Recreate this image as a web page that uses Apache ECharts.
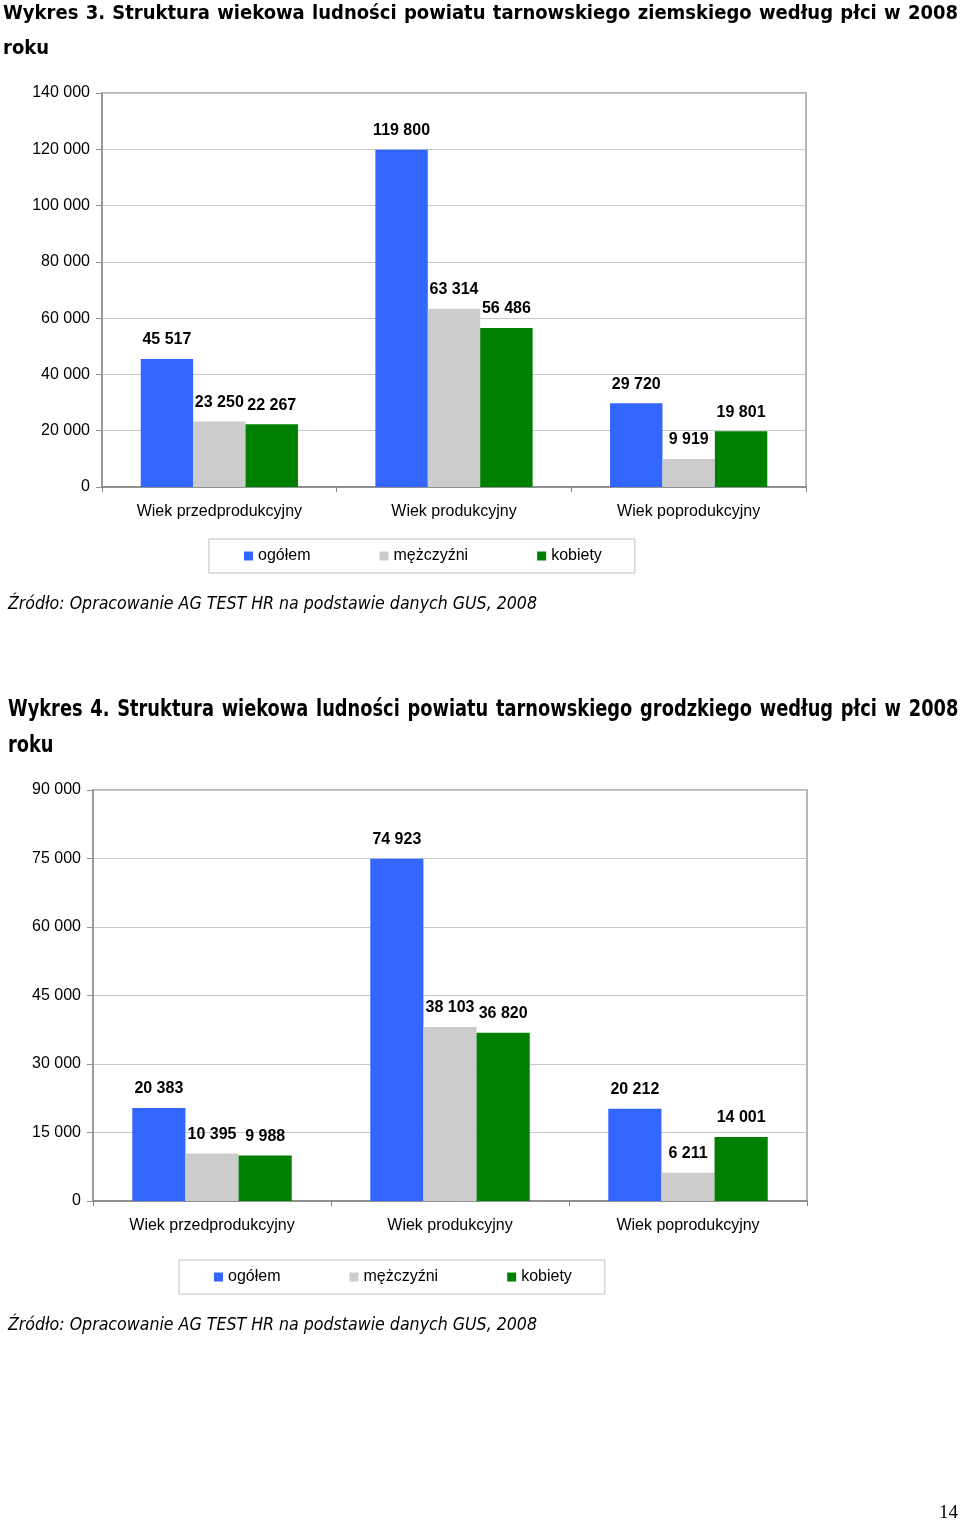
<!DOCTYPE html>
<html><head><meta charset="utf-8">
<script src="https://cdn.jsdelivr.net/npm/echarts@6/dist/echarts.min.js"></script>
<style>
html,body{margin:0;padding:0;background:#fff;}
#page{position:relative;width:960px;height:1522px;overflow:hidden;background:#fff;}
#chart{position:absolute;left:0;top:0;width:960px;height:1522px;}
.t{position:absolute;font-family:'DejaVu Sans Condensed','DejaVu Sans';font-weight:bold;color:#000;white-space:nowrap;font-size:20px;line-height:24px;}
.j{text-align:justify;text-align-last:justify;}
.t2{font-size:22.5px;transform:scaleX(0.88);transform-origin:0 50%;}
.src{position:absolute;left:8px;font-family:'DejaVu Sans Condensed','DejaVu Sans';font-style:italic;font-size:17.6px;line-height:20px;color:#000;white-space:nowrap;}
.pg{position:absolute;left:939px;top:1501px;font-family:'Liberation Serif';font-size:19px;line-height:22px;color:#000;}
</style></head>
<body>
<div id="page">
<div id="chart"></div>
<div class="t j" style="left:3px;width:955px;top:0px;">Wykres 3. Struktura wiekowa ludności powiatu tarnowskiego ziemskiego według płci w 2008</div>
<div class="t" style="left:3px;top:35px;">roku</div>
<div class="src" style="top:593px;">Źródło: Opracowanie AG TEST HR na podstawie danych GUS, 2008</div>
<div class="t t2 j" style="left:8px;width:1080px;top:696px;">Wykres 4. Struktura wiekowa ludności powiatu tarnowskiego grodzkiego według płci w 2008</div>
<div class="t t2" style="left:8px;top:732px;">roku</div>
<div class="src" style="top:1314px;">Źródło: Opracowanie AG TEST HR na podstawie danych GUS, 2008</div>
<div class="pg">14</div>
</div>
<script>
const categories = ['Wiek przedprodukcyjny', 'Wiek produkcyjny', 'Wiek poprodukcyjny'];
const seriesNames = ['ogółem', 'mężczyźni', 'kobiety'];
const seriesColors = ['#3366FF', '#CCCCCC', '#008000'];
// Wykres 3 – powiat tarnowski ziemski
const ziemskiOgolem = [45517, 119800, 29720];
const ziemskiMezczyzni = [23250, 63314, 9919];
const ziemskiKobiety = [22267, 56486, 19801];
// Wykres 4 – powiat tarnowski grodzki
const grodzkiOgolem = [20383, 74923, 20212];
const grodzkiMezczyzni = [10395, 38103, 6211];
const grodzkiKobiety = [9988, 36820, 14001];
// Y axis ticks
const yAxis1Ticks = { min: 0, max: 140000, interval: 20000 };
const yAxis2Ticks = { min: 0, max: 90000, interval: 15000 };

const fmt = v => String(v).replace(/\B(?=(\d{3})+(?!\d))/g, ' ');
const FONT = 'Liberation Sans';

function makeSeries(name, color, data, idx) {
  return {
    name, type: 'bar', xAxisIndex: idx, yAxisIndex: idx, data,
    barGap: '0%', barCategoryGap: '33%',
    itemStyle: { color },
    label: {
      show: true, position: 'top', distance: 11,
      fontFamily: FONT, fontWeight: 'bold', fontSize: 16, color: '#000',
      formatter: p => fmt(p.value)
    }
  };
}
function xAx(idx) {
  return {
    type: 'category', gridIndex: idx, data: categories,
    axisLine: { show: true, lineStyle: { color: '#808080', width: 1.5 } },
    axisTick: { show: true, length: 5, lineStyle: { color: '#808080' } },
    axisLabel: { margin: 17, fontFamily: FONT, fontSize: 16, color: '#000' }
  };
}
function yAx(idx, t) {
  return {
    type: 'value', gridIndex: idx, min: t.min, max: t.max, interval: t.interval,
    axisLine: { show: true, lineStyle: { color: '#909090', width: 1.5 } },
    axisTick: { show: true, length: 6, lineStyle: { color: '#909090' } },
    splitLine: { lineStyle: { color: '#c8c8c8' } },
    axisLabel: { margin: 12, fontFamily: FONT, fontSize: 16, color: '#000', formatter: v => fmt(v) }
  };
}
function legend(left, top) {
  return {
    data: seriesNames, left, top, orient: 'horizontal',
    padding: [9, 33, 9, 35], itemGap: 69, itemWidth: 9, itemHeight: 9, icon: 'rect',
    borderColor: '#c0c0c0', borderWidth: 1,
    textStyle: { fontFamily: FONT, fontSize: 16, color: '#000' }
  };
}

const chart = echarts.init(document.getElementById('chart'), null, { renderer: 'canvas' });
chart.setOption({
  animation: false,
  backgroundColor: 'transparent',
  grid: [
    { left: 102, top: 93, width: 704, height: 394, show: true, borderColor: '#a0a0a0', borderWidth: 1.5, backgroundColor: 'transparent' },
    { left: 93, top: 790, width: 714, height: 411, show: true, borderColor: '#a0a0a0', borderWidth: 1.5, backgroundColor: 'transparent' }
  ],
  legend: [legend(209, 539), legend(179, 1260)],
  xAxis: [xAx(0), xAx(1)],
  yAxis: [yAx(0, yAxis1Ticks), yAx(1, yAxis2Ticks)],
  series: [
    makeSeries(seriesNames[0], seriesColors[0], ziemskiOgolem, 0),
    makeSeries(seriesNames[1], seriesColors[1], ziemskiMezczyzni, 0),
    makeSeries(seriesNames[2], seriesColors[2], ziemskiKobiety, 0),
    makeSeries(seriesNames[0], seriesColors[0], grodzkiOgolem, 1),
    makeSeries(seriesNames[1], seriesColors[1], grodzkiMezczyzni, 1),
    makeSeries(seriesNames[2], seriesColors[2], grodzkiKobiety, 1)
  ]
});
</script>
</body></html>
